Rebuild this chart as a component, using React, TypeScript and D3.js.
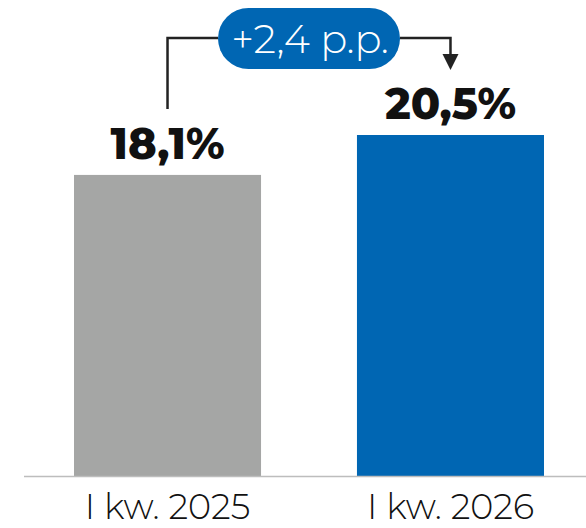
import * as d3 from "d3";

const categories = ["I kw. 2025", "I kw. 2026"];
const values = [18.1, 20.5];
const valueLabels = ["18,1%", "20,5%"];
const deltaLabel = "+2,4 p.p.";

const W = 586;
const H = 528;
const colors = ["#a5a6a5", "#0066b3"];
const FONT = "Montserrat, Inter, 'Noto Sans', sans-serif";

export default function App() {
  const baseline = 476;
  const x = d3.scaleBand<string>().domain(categories).range([74, 544]).paddingInner(0.339).paddingOuter(0);
  const y = d3.scaleLinear().domain([0, 20.5]).range([baseline, 135]);
  const bw = x.bandwidth();

  const cx = categories.map((c) => (x(c) ?? 0) + bw / 2);
  const lineY = 38;
  const pillX0 = 218;
  const pillX1 = 400;
  const arrowTip = 70;

  return (
    <svg width={W} height={H} style={{ position: "absolute", left: 0, top: 0, display: "block" }}>
      <rect width={W} height={H} fill="#fff" />
      {categories.map((c, i) => (
        <g key={c}>
          <rect x={x(c)} y={y(values[i])} width={bw} height={baseline - y(values[i])} fill={colors[i]} />
          <text
            x={cx[i]}
            y={y(values[i]) - 16}
            textAnchor="middle"
            fontFamily={FONT}
            fontWeight={800}
            fontSize={43}
            fill="#111"
          >
            {valueLabels[i]}
          </text>
          <text x={cx[i]} y={519} textAnchor="middle" fontFamily={FONT} fontWeight={300} fontSize={35} fill="#111">
            {c}
          </text>
        </g>
      ))}
      <line x1={24} x2={W} y1={baseline + 0.5} y2={baseline + 0.5} stroke="#bdbdbd" strokeWidth={1.5} />

      {/* delta annotation */}
      <path
        d={`M${cx[0]},109 V${lineY} H${pillX0} M${pillX1},${lineY} H${cx[1]} V${arrowTip - 14}`}
        fill="none"
        stroke="#222"
        strokeWidth={2.5}
      />
      <path d={`M${cx[1] - 8},${arrowTip - 16} L${cx[1] + 8},${arrowTip - 16} L${cx[1]},${arrowTip} Z`} fill="#222" />
      <rect x={pillX0} y={8} width={pillX1 - pillX0} height={61} rx={30.5} fill="#0066b3" />
      <text x={(pillX0 + pillX1) / 2 + 1} y={53} textAnchor="middle" fontFamily={FONT} fontWeight={300} fontSize={40} fill="#fff">
        {deltaLabel}
      </text>
    </svg>
  );
}
